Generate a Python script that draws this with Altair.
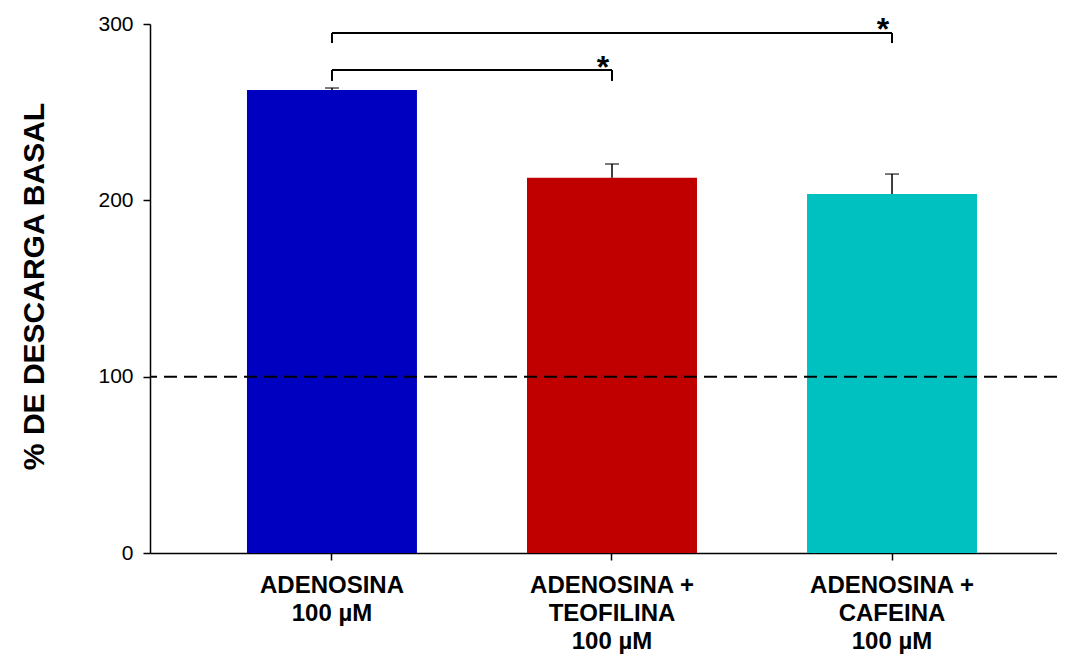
import altair as alt
import pandas as pd

# ---- data ----
categories = ["ADENOSINA\n100 µM", "ADENOSINA +\nTEOFILINA\n100 µM", "ADENOSINA +\nCAFEINA\n100 µM"]
means = [262.6, 212.8, 203.6]
sems = [1.1, 7.8, 11.3]
colors = ["#0000C0", "#C00000", "#00C0C0"]

# significance brackets: from category, to category, bracket height, tick bottom
br_from = [categories[0], categories[0]]
br_to = [categories[1], categories[2]]
br_top = [273.9, 294.9]
br_low = [267.7, 289.2]
br_label = ["*", "*"]

baseline_value = 100

FONT = "Liberation Sans"

df = pd.DataFrame({"cat": categories, "mean": means, "sem": sems})
df["upper"] = df["mean"] + df["sem"]

brk = pd.DataFrame({"c1": br_from, "c2": br_to, "top": br_top, "low": br_low, "lab": br_label})
ends = pd.DataFrame({
    "cat": br_from + br_to,
    "top": br_top + br_top,
    "low": br_low + br_low,
})

xscale = alt.Scale(domain=categories, paddingInner=0.393, paddingOuter=0.316, align=0.548)
yscale = alt.Scale(domain=[0, 300], nice=False, zero=True)

xaxis = alt.Axis(
    title=None,
    labelExpr="split(datum.label, '\\n')",
    labelFont=FONT, labelFontSize=24, labelFontWeight="bold", labelColor="black",
    labelLineHeight=28, labelBaseline="alphabetic", labelPadding=32, labelAngle=0,
    tickSize=7, tickColor="black", tickWidth=1.5,
    domainColor="black", domainWidth=1.5, grid=False,
)
yaxis = alt.Axis(
    title="% DE DESCARGA BASAL",
    values=[0, 100, 200, 300],
    labelFont=FONT, labelFontSize=21, labelColor="black", labelPadding=10,
    tickSize=7, tickColor="black", tickWidth=1.5,
    domainColor="black", domainWidth=1.5, grid=False,
    titleFont=FONT, titleFontSize=30, titleFontWeight="bold", titleColor="black",
    titleAngle=270, titleAlign="center", titleBaseline="alphabetic",
    titleX=-107, titleY=262,
)

base = alt.Chart(df)

bars = base.mark_bar().encode(
    x=alt.X("cat:N", scale=xscale, axis=xaxis, sort=categories),
    y=alt.Y("mean:Q", scale=yscale, axis=yaxis),
    color=alt.Color("cat:N", scale=alt.Scale(domain=categories, range=colors), legend=None),
)

err = base.mark_rule(color="black", strokeWidth=1.5).encode(
    x=alt.X("cat:N", sort=categories),
    y="mean:Q",
    y2="upper:Q",
)
caps = base.mark_tick(color="black", thickness=1.5, size=14).encode(
    x=alt.X("cat:N", sort=categories),
    y="upper:Q",
)

dash = alt.Chart(pd.DataFrame({"v": [baseline_value]})).mark_rule(
    color="black", strokeWidth=2, strokeDash=[13, 7]
).encode(y="v:Q")

hline = alt.Chart(brk).mark_rule(color="black", strokeWidth=2).encode(
    x=alt.X("c1:N", sort=categories, bandPosition=0.5),
    x2="c2:N",
    y="top:Q",
)
vlines = alt.Chart(ends).mark_rule(color="black", strokeWidth=2).encode(
    x=alt.X("cat:N", sort=categories),
    y="top:Q",
    y2="low:Q",
)
stars = alt.Chart(brk).mark_text(
    font=FONT, fontSize=32, fontWeight="bold", color="black",
    align="center", baseline="alphabetic", dx=-9, dy=7.5,
).encode(
    x=alt.X("c2:N", sort=categories),
    y="top:Q",
    text="lab:N",
)

chart = alt.layer(bars, dash, err, caps, hline, vlines, stars).properties(
    width=907, height=529,
    autosize=alt.AutoSizeParams(type="none"),
    padding={"left": 142, "top": 16, "right": 0, "bottom": 101},
).configure_view(stroke=None)

chart.save("out.html", embed_options={"renderer": "svg", "actions": False})
